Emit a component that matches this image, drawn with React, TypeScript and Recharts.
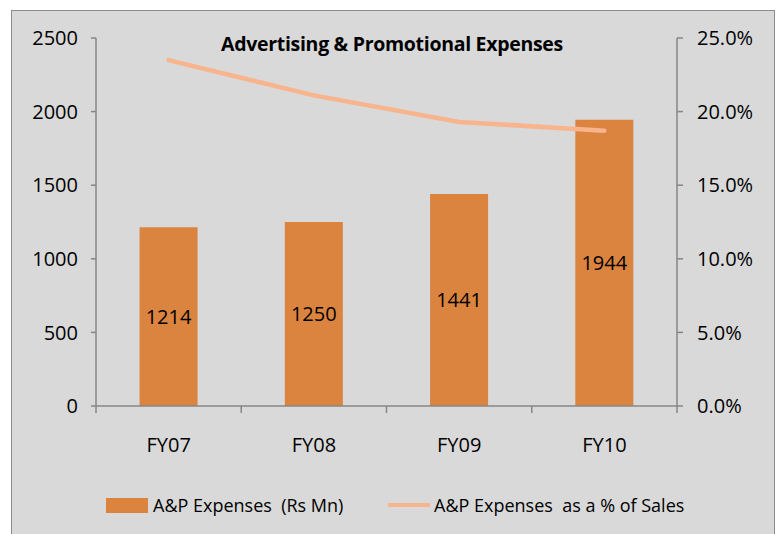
import {
  ComposedChart, Bar, Line, XAxis, YAxis, Legend, LabelList
} from "recharts";

const years = ["FY07", "FY08", "FY09", "FY10"];
const apExpenses = [1214, 1250, 1441, 1944];
const apPctOfSales = [23.5, 21.1, 19.3, 18.7];
const leftTicks = [0, 500, 1000, 1500, 2000, 2500];
const rightTicks = [0, 5, 10, 15, 20, 25];

const data = years.map((year, i) => ({
  year,
  expenses: apExpenses[i],
  pct: apPctOfSales[i],
}));

const FONT = "'Open Sans', 'DejaVu Sans', sans-serif";
const AXIS = "#868686";
const BAR = "#DA843F";
const LINE = "#F8B48C";

function YearTick(props: any) {
  const { x, y, payload, index } = props;
  const half = payload.offset ?? 0;
  const last = index === years.length - 1;
  return (
    <g>
      <line x1={x - half} x2={x - half} y1={y} y2={y + 7} stroke={AXIS} strokeWidth={1.5} />
      {last && <line x1={x + half} x2={x + half} y1={y} y2={y + 7} stroke={AXIS} strokeWidth={1.5} />}
      <text x={x} y={y + 46} textAnchor="middle" fontFamily={FONT} fontSize={20} fill="#000">
        {payload.value}
      </text>
    </g>
  );
}

function ChartLegend(props: any) {
  const { payload = [] } = props;
  return (
    <div style={{ display: "flex", alignItems: "center", paddingLeft: 106, height: 30, fontFamily: FONT, fontSize: 18, color: "#000" }}>
      {payload.map((entry: any, i: number) => (
        <div key={i} style={{ display: "flex", alignItems: "center", width: i === 0 ? 282 : 320 }}>
          {entry.type === "line" ? (
            <span style={{ display: "inline-block", width: 42, height: 4, background: entry.color, marginRight: 4 }} />
          ) : (
            <span style={{ display: "inline-block", width: 42, height: 15, background: entry.color, marginRight: 5 }} />
          )}
          <span style={{ whiteSpace: "pre" }}>{entry.value}</span>
        </div>
      ))}
    </div>
  );
}

export default function App() {
  return (
    <div style={{ position: "absolute", left: 0, top: 0, width: 777, height: 534, background: "#fff", overflow: "hidden" }}>
      <div style={{ position: "absolute", left: 11, top: 10, width: 762, height: 540, border: "1.5px solid #8c8c8c", background: "#D9D9D9" }} />
      <div style={{ position: "absolute", left: 0, width: 784, top: 30, textAlign: "center", fontFamily: FONT, fontWeight: 700, fontSize: 19.5, letterSpacing: -0.3, color: "#000" }}>
        Advertising &amp; Promotional Expenses
      </div>
      <div style={{ position: "absolute", left: 0, top: 0 }}>
        <ComposedChart width={777} height={534} data={data} margin={{ top: 38, right: 30, left: 36, bottom: 58 }} barCategoryGap="30%">
          <XAxis dataKey="year" stroke={AXIS} strokeWidth={1.5} tickLine={false} tickSize={0} tickMargin={0} height={40} tick={<YearTick />} interval={0} />
          <YAxis yAxisId="left" width={60} domain={[0, 2500]} ticks={leftTicks} stroke={AXIS} strokeWidth={1.5} tickSize={5} tickMargin={13}
            tick={{ fill: "#000", fontSize: 20, fontFamily: FONT }} />
          <YAxis yAxisId="right" orientation="right" width={70} domain={[0, 25]} ticks={rightTicks} stroke={AXIS} strokeWidth={1.5} tickSize={6} tickMargin={14}
            tickFormatter={(v: number) => `${v.toFixed(1)}%`} tick={{ fill: "#000", fontSize: 20, fontFamily: FONT, textAnchor: "start" }} />
          <Bar yAxisId="left" dataKey="expenses" name="A&P Expenses  (Rs Mn)" fill={BAR} legendType="rect" isAnimationActive={false}>
            <LabelList dataKey="expenses" position="center" fill="#000" fontSize={20} fontFamily={FONT} />
          </Bar>
          <Line yAxisId="right" dataKey="pct" name="A&P Expenses  as a % of Sales" stroke={LINE} strokeWidth={4.5} dot={false} legendType="line" strokeLinecap="round" isAnimationActive={false} />
          <Legend content={<ChartLegend />} wrapperStyle={{ left: 0, top: 490, width: 777, height: 30 }} />
        </ComposedChart>
      </div>
    </div>
  );
}
